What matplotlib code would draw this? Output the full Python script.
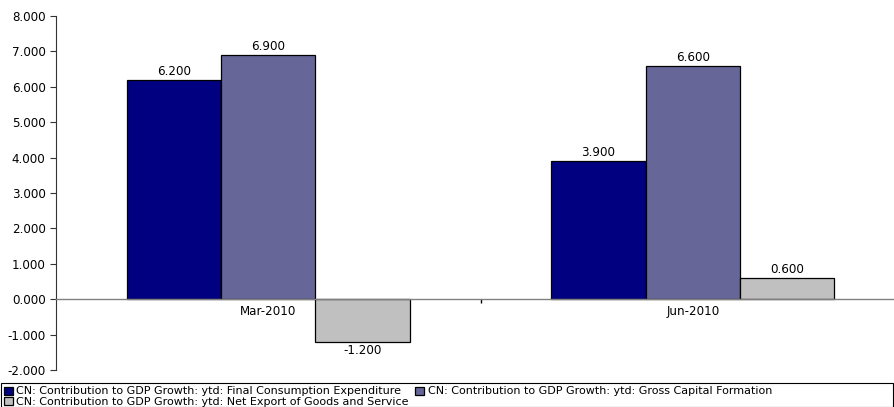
import matplotlib
matplotlib.use("Agg")
import matplotlib.pyplot as plt
from matplotlib.patches import Rectangle
import numpy as np

plt.rcParams['font.family'] = ['DejaVu Sans']

categories = ["Mar-2010", "Jun-2010"]
series_names = [
    "CN: Contribution to GDP Growth: ytd: Final Consumption Expenditure",
    "CN: Contribution to GDP Growth: ytd: Gross Capital Formation",
    "CN: Contribution to GDP Growth: ytd: Net Export of Goods and Service",
]
final_consumption = [6.2, 3.9]
gross_capital = [6.9, 6.6]
net_export = [-1.2, 0.6]
colors = ["#000080", "#666699", "#C0C0C0"]
y_ticks = [-2, -1, 0, 1, 2, 3, 4, 5, 6, 7, 8]

FS = 8.6
LFS = 8.0
W, H = 894, 407
fig = plt.figure(figsize=(W/100, H/100), dpi=100)
ax = fig.add_axes([56/W, 1-370/H, (905-56)/W, (370-16)/H])

x = np.arange(len(categories))
w = 1/4.5
series = [final_consumption, gross_capital, net_export]
handles = []
for i, (vals, c, name) in enumerate(zip(series, colors, series_names)):
    bars = ax.bar(x + (i-1)*w, vals, w, color=c, edgecolor="black", linewidth=0.9, label=name, zorder=3)
    handles.append(bars)
    for xi, v in zip(x + (i-1)*w, vals):
        if v >= 0:
            ax.annotate(f"{v:.3f}", (xi, v), xytext=(0, 6.1), textcoords="offset points",
                        ha="center", va="center", fontsize=FS)
        else:
            ax.annotate(f"{v:.3f}", (xi, v), xytext=(0, -6.1), textcoords="offset points",
                        ha="center", va="center", fontsize=FS)

ax.set_xlim(-0.5, 1.5)
ax.set_ylim(-2, 8)
ax.set_yticks(y_ticks)
ax.set_yticklabels([f"{t:.3f}" for t in y_ticks], fontsize=FS)
ax.tick_params(axis="y", direction="out", length=4.5, width=0.8, color="#333333", pad=3)

ax.spines["top"].set_visible(False)
ax.spines["right"].set_visible(False)
ax.spines["left"].set_color("#333333")
ax.spines["left"].set_linewidth(0.8)
ax.spines["bottom"].set_position(("data", 0))
ax.spines["bottom"].set_color("#808080")
ax.spines["bottom"].set_linewidth(1.0)
ax.spines["bottom"].set_zorder(4)

ax.set_xticks(x)
ax.set_xticklabels(categories, fontsize=FS)
ax.tick_params(axis="x", which="major", length=0, pad=4.5)
ax.set_xticks([0.5], minor=True)
ax.tick_params(axis="x", which="minor", direction="out", length=3, width=1, color="black")

# legend: row-major order (Final, Gross / Net)
order = [0, 2, 1]
leg = fig.legend(handles=[handles[k] for k in order], labels=[series_names[k] for k in order],
                 loc="upper left", bbox_to_anchor=(4/W, 1-386.5/H),
                 ncol=2, fontsize=LFS, frameon=False,
                 handlelength=0.8, handleheight=0.7, handletextpad=0.3, labelspacing=0.06,
                 borderpad=0.0, borderaxespad=0.0, columnspacing=0.6)
frame = Rectangle((1/W, 0), (893-1)/W, (407-383)/H, transform=fig.transFigure,
                  fill=False, edgecolor="black", linewidth=0.8)
fig.add_artist(frame)

fig.savefig("out.png", dpi=100)
